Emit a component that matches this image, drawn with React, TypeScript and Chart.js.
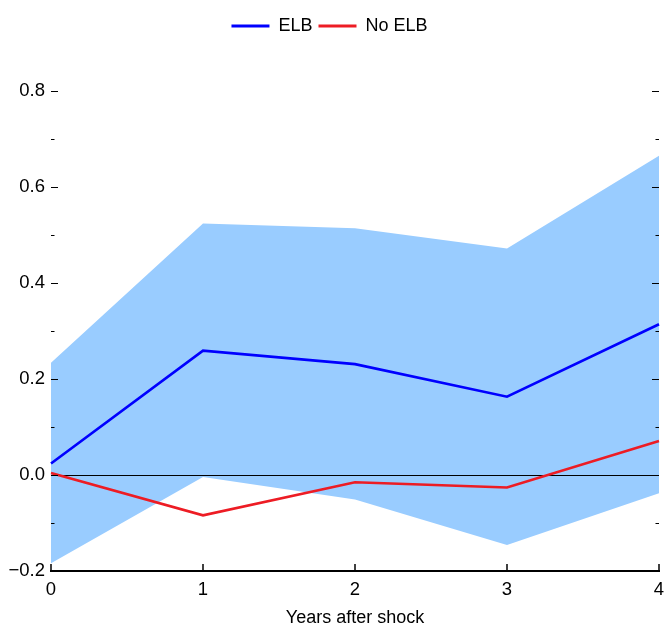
import { useEffect, useRef } from 'react';
import { Chart, registerables } from 'chart.js';

Chart.register(...registerables);

// Impulse responses, years after the shock
const years = [0, 1, 2, 3, 4];
const elb = [0.024, 0.259, 0.231, 0.163, 0.314];
const noElb = [0.004, -0.084, -0.015, -0.026, 0.071];
const bandUpper = [0.234, 0.524, 0.514, 0.472, 0.665];
const bandLower = [-0.184, -0.004, -0.051, -0.146, -0.038];

// Vertical axis: labelled every 0.2, small marks every 0.1
const yMin = -0.2;
const yMax = 0.8958;
const yStep = 0.1;

const FONT = "'Liberation Sans', Arial, sans-serif";

const isMajor = (v: number) => Math.round(v / yStep) % 2 === 0;
const fmt = (v: number) => {
  const s = Math.abs(v).toFixed(1);
  return v < -1e-9 ? '\u2212' + s : s;
};

// Index of the upper band dataset; the zero line goes right above its fill
const BAND_INDEX = 2;

// Zero reference line, inward tick marks on both sides, bottom axis line
const frameTicks = {
  id: 'frameTicks',
  afterDatasetDraw(chart: any, args: any) {
    if (args.index !== BAND_INDEX) return;
    const { ctx, chartArea } = chart;
    const py = Math.round(chart.scales.y.getPixelForValue(0)) + 0.5;
    ctx.save();
    ctx.strokeStyle = '#000';
    ctx.lineWidth = 1;
    ctx.beginPath();
    ctx.moveTo(chartArea.left, py);
    ctx.lineTo(chartArea.right, py);
    ctx.stroke();
    ctx.restore();
  },
  afterDatasetsDraw(chart: any) {
    const { ctx, chartArea } = chart;
    const { left, right, bottom } = chartArea;
    const ys = chart.scales.y;
    const xs = chart.scales.x;
    ctx.save();
    ctx.strokeStyle = '#000';
    ctx.lineWidth = 1.2;
    ys.ticks.forEach((t: any) => {
      const len = isMajor(t.value) ? 7 : 3.5;
      const py = Math.round(ys.getPixelForValue(t.value)) + 0.5;
      ctx.beginPath();
      ctx.moveTo(left, py);
      ctx.lineTo(left + len, py);
      ctx.moveTo(right, py);
      ctx.lineTo(right - len, py);
      ctx.stroke();
    });
    ctx.lineWidth = 2;
    ctx.beginPath();
    ctx.moveTo(left - 1, bottom);
    ctx.lineTo(right + 1, bottom);
    ctx.stroke();
    ctx.lineWidth = 1.5;
    xs.ticks.forEach((_: any, i: number) => {
      const px = xs.getPixelForTick(i);
      ctx.beginPath();
      ctx.moveTo(px, bottom);
      ctx.lineTo(px, bottom - 7);
      ctx.stroke();
    });
    ctx.restore();
  },
};

export default function App() {
  const ref = useRef<HTMLCanvasElement>(null);

  useEffect(() => {
    if (!ref.current) return;
    Chart.defaults.font.family = FONT;
    Chart.defaults.color = '#000';

    const line = (label: string, data: number[], color: string) => ({
      label,
      data,
      borderColor: color,
      backgroundColor: color,
      borderWidth: 2.6,
      pointRadius: 0,
      tension: 0,
      fill: false,
    });

    const chart = new Chart(ref.current, {
      type: 'line',
      data: {
        labels: years.map(String),
        datasets: [
          line('ELB', elb, '#0000ff'),
          line('No ELB', noElb, '#ed1c24'),
          {
            label: 'upper',
            data: bandUpper,
            borderWidth: 0,
            borderColor: 'rgba(0,0,0,0)',
            backgroundColor: '#99ccff',
            pointRadius: 0,
            tension: 0,
            fill: '+1',
          },
          {
            label: 'lower',
            data: bandLower,
            borderWidth: 0,
            borderColor: 'rgba(0,0,0,0)',
            backgroundColor: '#99ccff',
            pointRadius: 0,
            tension: 0,
            fill: false,
          },
        ],
      },
      options: {
        responsive: false,
        animation: false,
        layout: { padding: { top: 11, right: 6, left: 0, bottom: 0 } },
        plugins: {
          tooltip: { enabled: false },
          legend: {
            position: 'top',
            labels: {
              font: { size: 18 },
              boxWidth: 38,
              boxHeight: 3,
              padding: 6,
              color: '#000',
              filter: (item: any) => item.datasetIndex < 2,
              generateLabels: (c: any) =>
                Chart.defaults.plugins.legend.labels
                  .generateLabels(c)
                  .map((l: any) => ({ ...l, fillStyle: l.strokeStyle, lineWidth: 0 })),
            },
          },
        },
        scales: {
          x: {
            type: 'category',
            offset: false,
            grid: { display: false, drawTicks: false },
            border: { display: false },
            ticks: { font: { size: 18.5 }, padding: 8, maxRotation: 0, autoSkip: false, color: '#000' },
            title: {
              display: true,
              text: 'Years after shock',
              font: { size: 18 },
              color: '#000',
              padding: { top: 0, bottom: 0 },
            },
            afterFit: (s: any) => {
              s.height = 58;
              s.paddingLeft = 0;
              s.paddingRight = 0;
            },
          },
          y: {
            min: yMin,
            max: yMax,
            grid: { display: false, drawTicks: false },
            border: { display: false },
            ticks: {
              stepSize: yStep,
              includeBounds: false,
              autoSkip: false,
              padding: 6,
              font: { size: 18.5 },
              color: '#000',
              callback: (v: any) => (isMajor(Number(v)) ? fmt(Number(v)) : ''),
            },
            afterFit: (s: any) => {
              s.width = 51;
            },
          },
        },
      },
      plugins: [frameTicks],
    } as any);

    return () => chart.destroy();
  }, []);

  return (
    <div style={{ position: 'fixed', left: 0, top: 0, width: 665, height: 629, background: '#fff' }}>
      <canvas ref={ref} width={665} height={629} />
    </div>
  );
}
